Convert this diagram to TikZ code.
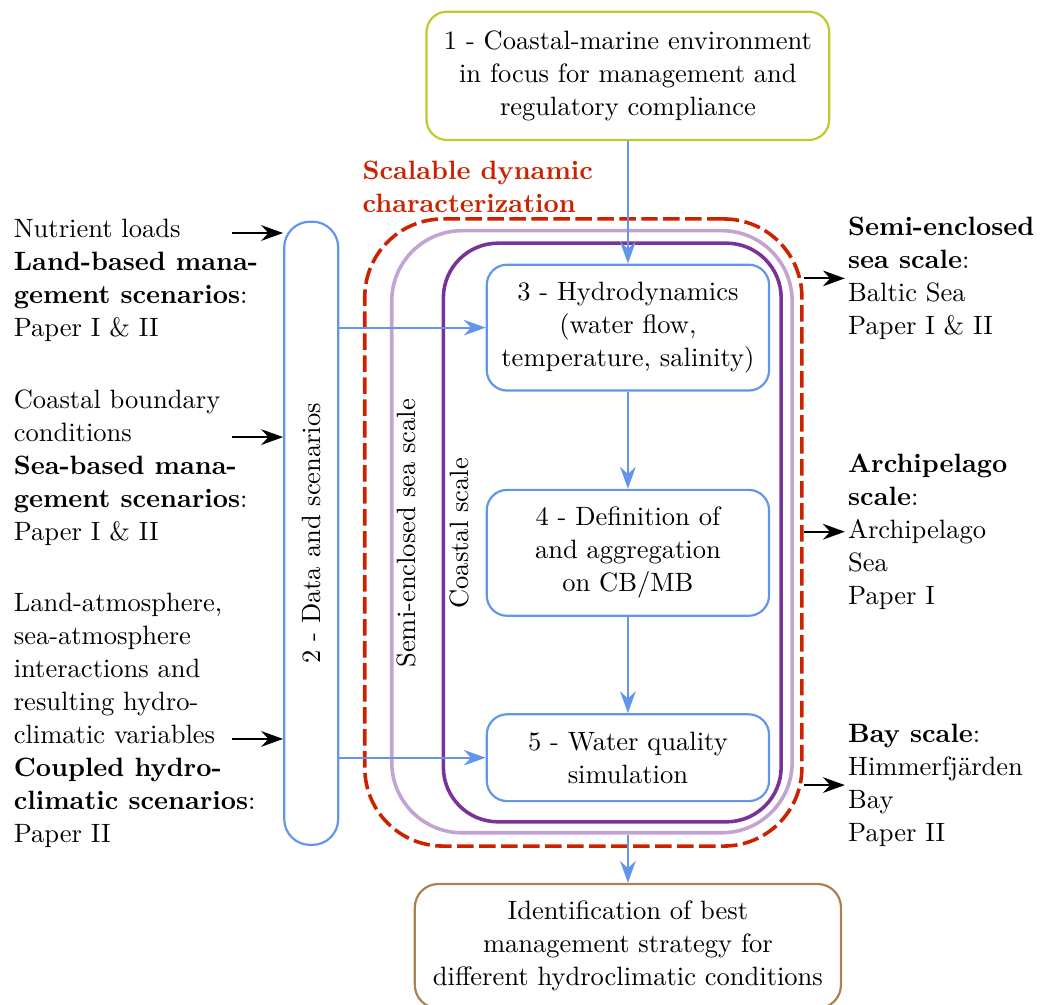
\documentclass[tikz,border=0pt]{standalone}
\usepackage{xcolor}
\usepackage{tikz}
\usetikzlibrary{shapes,arrows,positioning,calc,arrows.meta}

\definecolor{flowblue}{HTML}{6495ED}
\definecolor{focusgreen}{HTML}{BFCA2E}
\definecolor{outbrown}{HTML}{A8834F}
\definecolor{scalered}{HTML}{CC2200}
\definecolor{semilav}{HTML}{C3A3D2}
\definecolor{coastpurple}{HTML}{7B3298}

\tikzset{
    every node/.style={font=\fontsize{9.65}{12}\selectfont},
    stepbox/.style={draw=flowblue, line width=0.8pt, rounded corners=0.26cm, align=center, minimum width=3.61cm},
    flow/.style={draw=flowblue, line width=0.8pt, -{Stealth[length=2.8mm,width=2mm]}},
    feed/.style={line width=0.8pt, -{Stealth[length=2.8mm,width=2mm]}},
    sidetext/.style={inner sep=0pt, anchor=west, align=left}
}

\begin{document}
\begin{tikzpicture}
    \useasboundingbox (0,0) rectangle (13.30,-12.85);

    % Scale containers
    \node [draw=scalered, line width=1.3pt, dash pattern=on 6pt off 2pt, rounded corners=1.0cm, minimum width=5.59cm, minimum height=8.02cm] (dynamic) at (7.46,-6.81) {};
    \node [draw=semilav, line width=1.3pt, rounded corners=0.9cm, minimum width=5.12cm, minimum height=7.70cm] (semi) at (7.57,-6.80) {};
    \node [draw=coastpurple, line width=1.3pt, rounded corners=0.7cm, minimum width=4.32cm, minimum height=7.40cm] (coastal) at (7.83,-6.81) {};
    \node [rotate=90] (semilabel) at (5.20,-6.82) {Semi-enclosed sea scale};
    \node [rotate=90] (coastlabel) at (5.88,-6.82) {Coastal scale};
    \node [sidetext, text=scalered] (scalable) at (4.63,-2.39) {\bfseries Scalable dynamic\\\bfseries characterization};

    % Model steps
    \node [draw=focusgreen, line width=0.8pt, rounded corners=0.26cm, align=center, minimum width=5.15cm, minimum height=1.64cm] (focus) at (8.03,-0.97) {1 - Coastal-marine environment\\in focus for management and\\regulatory compliance};
    \node [stepbox, minimum height=1.61cm] (hydro) at (8.03,-4.19) {3 - Hydrodynamics\\(water flow,\\temperature, salinity)};
    \node [stepbox, minimum height=1.61cm] (aggregation) at (8.03,-7.07) {4 - Definition of\\and aggregation\\on CB/MB};
    \node [stepbox, minimum height=1.11cm] (quality) at (8.03,-9.69) {5 - Water quality\\simulation};
    \node [draw=outbrown, line width=0.8pt, rounded corners=0.3cm, align=center, minimum width=5.45cm, minimum height=1.59cm] (strategy) at (8.03,-12.10) {Identification of best\\management strategy for\\different hydroclimatic conditions};

    % Data and scenarios
    \node [draw=flowblue, line width=0.8pt, rounded corners=0.33cm, minimum width=0.69cm, minimum height=7.97cm] (data) at (3.98,-6.82) {};
    \node [rotate=90] (datalabel) at (data.center) {2 - Data and scenarios};

    % Inputs on the left
    \node [sidetext] (landin) at (0.17,-3.58) {Nutrient loads\\\textbf{Land-based mana-}\\\textbf{gement scenarios}:\\Paper I \& II};
    \node [sidetext] (seain) at (0.17,-5.98) {Coastal boundary\\conditions\\\textbf{Sea-based mana-}\\\textbf{gement scenarios}:\\Paper I \& II};
    \node [sidetext] (climin) at (0.17,-9.21) {Land-atmosphere,\\sea-atmosphere\\interactions and\\resulting hydro-\\climatic variables\\\textbf{Coupled hydro-}\\\textbf{climatic scenarios}:\\Paper II};
    \coordinate (landtail) at (2.97,-2.98);
    \coordinate (seatail) at (2.97,-5.59);
    \coordinate (climtail) at (2.97,-9.45);

    % Scales on the right
    \node [sidetext] (baltic) at (10.84,-3.56) {\textbf{Semi-enclosed}\\\textbf{sea scale}:\\Baltic Sea\\Paper I \& II};
    \node [sidetext] (archipelago) at (10.84,-6.80) {\textbf{Archipelago}\\\textbf{scale}:\\Archipelago\\Sea\\Paper I};
    \node [sidetext] (bay) at (10.84,-10.04) {\textbf{Bay scale}:\\Himmerfj\"arden\\Bay\\Paper II};

    % Connectors
    \draw [flow] (focus) -- (hydro);
    \draw [flow] (hydro) -- (aggregation);
    \draw [flow] (aggregation) -- (quality);
    \draw [flow] (strategy.north |- semi.south) -- (strategy.north);
    \draw [flow] (data.east |- hydro.west) -- (hydro.west);
    \draw [flow] (data.east |- quality.west) -- (quality.west);
    \draw [feed] (landtail) -- (landtail -| data.west);
    \draw [feed] (seatail) -- (seatail -| data.west);
    \draw [feed] (climtail) -- (climtail -| data.west);
    \draw [feed] (baltic.west -| dynamic.east) -- ([xshift=-1pt]baltic.west);
    \draw [feed] (archipelago.west -| dynamic.east) -- ([xshift=-1pt]archipelago.west);
    \draw [feed] (bay.west -| dynamic.east) -- ([xshift=-1pt]bay.west);

\end{tikzpicture}
\end{document}
